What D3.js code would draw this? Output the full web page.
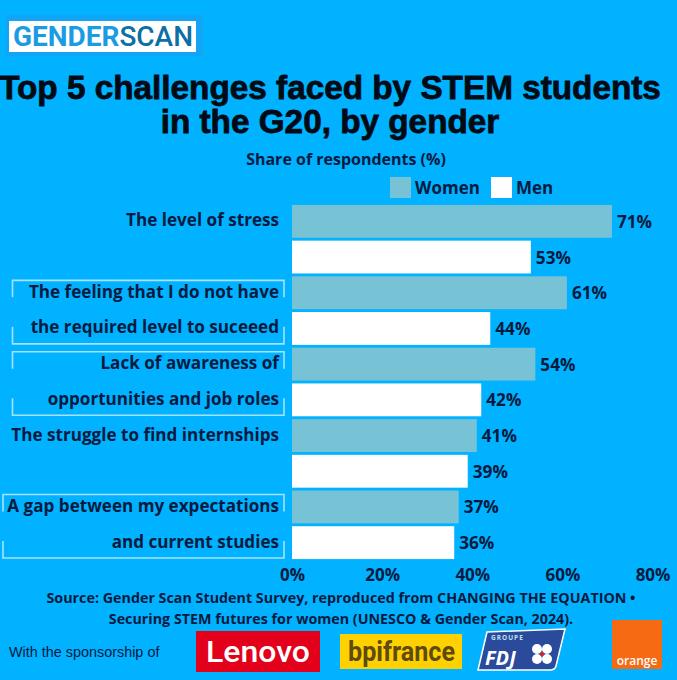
<!DOCTYPE html>
<html>
<head>
<meta charset="utf-8">
<style>
  html, body { margin: 0; padding: 0; background: #00b2ff; }
  svg { display: block; }
  text { font-family: "Open Sans", sans-serif; font-weight: 700; fill: #041a40; }
</style>
<script src="https://cdn.jsdelivr.net/npm/d3@7"></script>
</head>
<body>
<svg width="677" height="680"></svg>
<script>
// data
var categories = ["stress", "level", "awareness", "internships", "gap"];
var labelsWomen = ["The level of stress", "The feeling that I do not have", "Lack of awareness of", "The struggle to find internships", "A gap between my expectations"];
var labelsMen = ["", "the required level to suceeed", "opportunities and job roles", "", "and current studies"];
var women = [71, 61, 54, 41, 37];
var men = [53, 44, 42, 39, 36];
var genders = ["Women", "Men"];
var xTicks = [0, 20, 40, 60, 80];
var titleLines = ["Top 5 challenges faced by STEM students", "in the G20, by gender"];
var sourceLines = ["Source: Gender Scan Student Survey, reproduced from CHANGING THE EQUATION \u2022", "Securing STEM futures for women (UNESCO & Gender Scan, 2024)."];

var bg = "#00b2ff";
var color = d3.scaleOrdinal().domain(genders).range(["#78c2d6", "#ffffff"]);

var svg = d3.select("svg");
svg.append("rect").attr("width", 677).attr("height", 680).attr("fill", bg);

var x = d3.scaleLinear().domain([0, 80]).range([292, 652.5]);
var y0 = d3.scaleBand().domain(categories).range([203.5, 560.5]);
var y1 = d3.scaleBand().domain(genders).range([0, y0.bandwidth()]).paddingInner(0.08).paddingOuter(0.04);

// logo
var logo = svg.append("g");
logo.append("rect").attr("x", 6).attr("y", 15).attr("width", 197).attr("height", 41).attr("fill", "#12a4f5");
logo.append("rect").attr("x", 9).attr("y", 21).attr("width", 187).attr("height", 31).attr("fill", "#fff");
var logoText = logo.append("text").attr("x", 13).attr("y", 46).attr("font-size", 27)
  .attr("textLength", 180).attr("lengthAdjust", "spacingAndGlyphs")
  .style("font-family", "Roboto, sans-serif");
logoText.append("tspan").text("GENDER").style("fill", "#1b9ce2").style("font-weight", 700);
logoText.append("tspan").text("SCAN").style("fill", "#0c6fa6").style("font-weight", 500);

// titles
svg.selectAll(".title").data(titleLines).enter().append("text")
  .attr("class", "title")
  .attr("x", 330)
  .attr("y", function(d, i) { return 98.5 + i * 34; })
  .attr("text-anchor", "middle")
  .attr("font-size", 33.3)
  .style("font-family", "'Liberation Sans', sans-serif")
  .style("fill", "#020a14")
  .style("stroke", "#020a14")
  .style("stroke-width", 0.8)
  .text(function(d) { return d; });

svg.append("text").attr("x", 346).attr("y", 165).attr("text-anchor", "middle")
  .attr("font-size", 16).text("Share of respondents (%)");

// legend
var legendX = {Women: 390, Men: 491};
var legend = svg.selectAll(".legend").data(genders).enter().append("g").attr("class", "legend")
  .attr("transform", function(d) { return "translate(" + legendX[d] + ",177)"; });
legend.append("rect").attr("width", 21).attr("height", 21).attr("fill", function(d) { return color(d); });
legend.append("text").attr("x", 25).attr("y", 16.5).attr("font-size", 17).text(function(d) { return d; });

// bars
var rows = [];
categories.forEach(function(c, i) {
  rows.push({cat: c, gender: "Women", value: women[i], label: labelsWomen[i]});
  rows.push({cat: c, gender: "Men", value: men[i], label: labelsMen[i]});
});
function rowY(d) { return y0(d.cat) + y1(d.gender); }
function rowMid(d) { return rowY(d) + y1.bandwidth() / 2; }

svg.selectAll(".bar").data(rows).enter().append("rect")
  .attr("class", "bar")
  .attr("x", x(0))
  .attr("y", rowY)
  .attr("width", function(d) { return x(d.value) - x(0); })
  .attr("height", y1.bandwidth())
  .attr("fill", function(d) { return color(d.gender); });

svg.selectAll(".value").data(rows).enter().append("text")
  .attr("class", "value")
  .attr("x", function(d) { return x(d.value) + 5; })
  .attr("y", function(d) { return rowMid(d) + 6.5; })
  .attr("font-size", 17.2)
  .text(function(d) { return d.value + "%"; });

svg.selectAll(".rowlabel").data(rows).enter().append("text")
  .attr("class", "rowlabel")
  .attr("x", 279)
  .attr("y", function(d) { return rowMid(d) + 5; })
  .attr("text-anchor", "end")
  .attr("font-size", 17.1)
  .text(function(d) { return d.label; });

// bracket frames round the two-line labels
var frameLeft = {level: 12.5, awareness: 12.5, gap: 3};
var frameRight = 284;
Object.keys(frameLeft).forEach(function(c) {
  var l = frameLeft[c], t = y0(c) + y1("Women") + 4, b = y0(c) + y1("Men") + y1.bandwidth() - 1;
  var p = d3.path();
  p.moveTo(l, t + 17); p.lineTo(l, t); p.lineTo(frameRight, t); p.lineTo(frameRight, t + 17);
  p.moveTo(l, b - 17); p.lineTo(l, b); p.lineTo(frameRight, b); p.lineTo(frameRight, b - 17);
  svg.append("path").attr("d", p.toString()).attr("fill", "none")
    .attr("stroke", "#a6e3fb").attr("stroke-width", 1.6);
});

// x axis
var axis = svg.append("g").attr("transform", "translate(0,561)")
  .call(d3.axisBottom(x).tickValues(xTicks).tickSize(0).tickPadding(8).tickFormat(function(d) { return d + "%"; }));
axis.select(".domain").remove();
axis.selectAll("text").attr("font-size", 17).style("font-family", "'Open Sans', sans-serif").style("font-weight", 700);

// source
svg.selectAll(".source").data(sourceLines).enter().append("text")
  .attr("class", "source")
  .attr("x", 341)
  .attr("y", function(d, i) { return 603 + i * 20.5; })
  .attr("text-anchor", "middle")
  .attr("font-size", 14.3)
  .text(function(d) { return d; });

// sponsors
svg.append("text").attr("x", 9).attr("y", 657).attr("font-size", 14.4)
  .style("font-family", "'Liberation Sans', sans-serif").style("font-weight", 400)
  .text("With the sponsorship of");

svg.append("rect").attr("x", 196).attr("y", 631).attr("width", 124).attr("height", 41).attr("fill", "#e2001a");
svg.append("text").attr("x", 206).attr("y", 662).attr("font-size", 29)
  .attr("textLength", 104).attr("lengthAdjust", "spacingAndGlyphs")
  .style("fill", "#fff").style("font-family", "Roboto, sans-serif").style("font-weight", 500).text("Lenovo");

svg.append("rect").attr("x", 340).attr("y", 634).attr("width", 122).attr("height", 35).attr("fill", "#ffd100");
svg.append("text").attr("x", 348).attr("y", 661).attr("font-size", 27)
  .attr("textLength", 107).attr("lengthAdjust", "spacingAndGlyphs")
  .style("fill", "#5f4a10").style("font-family", "Roboto, sans-serif").text("bpifrance");

svg.append("path").attr("d", "M487,632 L565,629 L556,666 Q555,670 550,670 L478,670 Z").attr("fill", "#2a4a9c").attr("stroke", "#fff").attr("stroke-width", 1.5);
svg.append("text").attr("x", 491).attr("y", 640).attr("font-size", 6.5).attr("letter-spacing", 1).style("fill", "#bfe0f5").text("GROUPE");
svg.append("text").attr("x", 485).attr("y", 665).attr("font-size", 20).attr("font-style", "italic").style("fill", "#fff").text("FDJ");
var clover = svg.append("g").attr("transform", "translate(542,654)");
clover.selectAll("circle").data([[-5, -5], [5, -5], [-5, 5], [5, 5]]).enter().append("circle")
  .attr("cx", function(d) { return d[0]; }).attr("cy", function(d) { return d[1]; })
  .attr("r", 5).attr("fill", "#fff");
clover.append("circle").attr("r", 2).attr("fill", "#d22");

svg.append("rect").attr("x", 612).attr("y", 620).attr("width", 50).attr("height", 49).attr("fill", "#f56a12");
svg.append("text").attr("x", 637).attr("y", 665).attr("text-anchor", "middle").attr("font-size", 12).style("fill", "#fff").style("font-weight", 600).text("orange");
</script>
</body>
</html>
